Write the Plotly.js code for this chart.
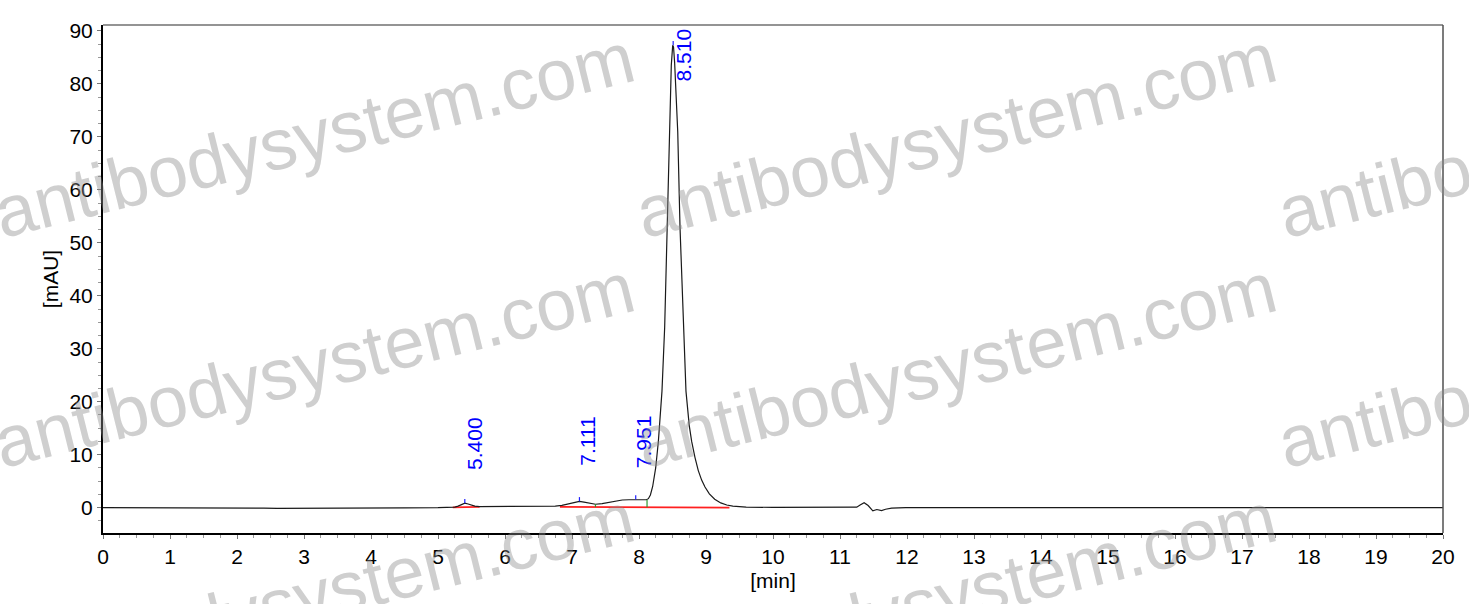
<!DOCTYPE html>
<html>
<head>
<meta charset="utf-8">
<script src="https://cdn.plot.ly/plotly-3.0.1.min.js"></script>
<style>
html,body{margin:0;padding:0;background:#fff;}
#chart{width:1469px;height:604px;}
</style>
</head>
<body>
<div id="chart"></div>
<script>
// ---- chromatogram data ----
var timeMin = [0.0,0.5,1.0,1.5,2.0,2.05,2.4,2.6,3.0,3.5,4.0,4.5,5.0,5.2,5.25,5.3,5.35,5.4,5.45,5.5,5.55,5.62,5.8,6.0,6.3,6.6,6.75,6.85,6.95,7.03,7.11,7.18,7.26,7.35,7.45,7.55,7.65,7.75,7.85,7.96,8.05,8.11,8.14,8.17,8.204,8.249,8.289,8.343,8.383,8.423,8.452,8.482,8.503,8.515,8.532,8.578,8.612,8.661,8.701,8.75,8.786,8.835,8.885,8.935,8.985,9.05,9.13,9.22,9.31,9.4,9.5,9.6,10.0,10.5,11.0,11.25,11.3,11.36,11.42,11.49,11.55,11.62,11.68,11.77,11.98,12.5,13.0,14.0,15.0,16.0,17.0,18.0,19.0,20.0];
var signalMAU = [0.0,0.0,0.0,0.0,0.0,-0.1,-0.1,-0.15,-0.15,-0.15,-0.1,-0.05,0.0,0.05,0.1,0.3,0.6,0.85,0.7,0.45,0.3,0.2,0.2,0.2,0.2,0.25,0.3,0.45,0.7,1.0,1.2,1.05,0.8,0.65,0.75,1.0,1.3,1.45,1.5,1.55,1.55,1.5,1.7,2.4,4.0,7.5,12.5,22,34,52,70,83.5,87.3,87.0,84,71,53,34,22,15.5,12.5,9.5,7,5.2,3.9,2.6,1.6,0.9,0.5,0.3,0.2,0.12,0.05,0.05,0.05,0.1,0.5,0.95,0.4,-0.6,-0.35,-0.55,-0.3,-0.1,0.0,0.0,0.0,0.0,0.0,0.0,0.0,0.0,0.0,0.0];

// integrated peaks
var peakTimes   = [5.400, 7.111, 7.951, 8.510];
var peakHeights = [0.85, 1.2, 1.55, 87.3];
var peakLabels  = ["5.400", "7.111", "7.951", "8.510"];

// integration baselines (red) : start/end time and level
var baseStartT = [5.22, 6.82];
var baseStartY = [0.05, 0.15];
var baseEndT   = [5.62, 9.35];
var baseEndY   = [0.15, 0.0];

// peak boundary marks (green)
var boundT = [7.35, 8.12];
var boundY = [0.65, 1.5];

// axis ticks
var xTicks = [0,1,2,3,4,5,6,7,8,9,10,11,12,13,14,15,16,17,18,19,20];
var yTicks = [0,10,20,30,40,50,60,70,80,90];

// ---- traces ----
var traces = [];
for (var i = 0; i < baseStartT.length; i++) {
  traces.push({x:[baseStartT[i], baseEndT[i]], y:[baseStartY[i], baseEndY[i]], mode:'lines',
    line:{color:'#ff2020', width:1.7}, hoverinfo:'skip', showlegend:false});
}
traces.push({x:timeMin, y:signalMAU, mode:'lines', line:{color:'#1a1a1a', width:1.2},
  hoverinfo:'skip', showlegend:false});
var gx = [], gy = [];
for (var j = 0; j < boundT.length; j++) { gx.push(boundT[j], boundT[j], null); gy.push(0.1, boundY[j], null); }
traces.push({x:gx, y:gy, mode:'lines', line:{color:'#2e9a2e', width:1.2}, hoverinfo:'skip', showlegend:false});
var bx = [], by = [];
for (var k = 0; k < peakTimes.length; k++) { bx.push(peakTimes[k], peakTimes[k], null); by.push(peakHeights[k], peakHeights[k] + 0.8, null); }
traces.push({x:bx, y:by, mode:'lines', line:{color:'#2020ff', width:1.2}, hoverinfo:'skip', showlegend:false});

// ---- annotations ----
var W = 1469, H = 604, L = 103, R = 26, T = 25, B = 71;
var pw = W - L - R, ph = H - T - B;
function px2paperX(p){ return (p - L) / pw; }
function px2paperY(p){ return (H - B - p) / ph; }

var annotations = [];
// peak labels: rotated, offset right/up from apex (pixel shifts)
var labelShiftX = [9, 8, 8, 10];
var labelShiftY = [60, 60, 58, -10];
for (var a = 0; a < peakTimes.length; a++) {
  annotations.push({x:peakTimes[a], y:peakHeights[a], xref:'x', yref:'y', text:peakLabels[a],
    showarrow:false, textangle:-90, xanchor:'center', yanchor:'middle',
    xshift:labelShiftX[a], yshift:labelShiftY[a],
    font:{family:'Arial, "Liberation Sans", sans-serif', size:21, color:'#0000ff'}});
}
// watermark grid
var wmCols = [314, 956, 1598];
var wmRows = [135, 365, 595];
for (var r = 0; r < wmRows.length; r++) {
  for (var c = 0; c < wmCols.length; c++) {
    annotations.push({x:px2paperX(wmCols[c]), y:px2paperY(wmRows[r]), xref:'paper', yref:'paper',
      text:'antibodysystem.com', showarrow:false, textangle:-14, xanchor:'center', yanchor:'middle',
      font:{family:'Arial, "Liberation Sans", sans-serif', size:72, color:'rgba(140,140,140,0.42)'}});
  }
}

var fontMain = {family:'Arial, "Liberation Sans", sans-serif', size:21, color:'#000'};

var layout = {
  width:W, height:H,
  margin:{l:L, r:R, t:T, b:B, pad:0},
  paper_bgcolor:'#ffffff', plot_bgcolor:'#ffffff',
  showlegend:false,
  font:fontMain,
  xaxis:{range:[0,20], tickvals:xTicks, ticktext:xTicks.map(String), ticks:'outside', ticklen:4,
    tickcolor:'#777', tickwidth:1, showline:true, linecolor:'#000', linewidth:2, showgrid:false,
    zeroline:false, tickfont:fontMain,
    minor:{dtick:0.25, ticks:'outside', ticklen:3, tickcolor:'#999', tickwidth:1, showgrid:false},
    title:{text:'[min]', font:fontMain, standoff:6}},
  yaxis:{range:[-4.78,91.12], tickvals:yTicks, ticktext:yTicks.map(String), ticks:'outside', ticklen:4,
    tickcolor:'#777', tickwidth:1, showline:true, linecolor:'#000', linewidth:2, showgrid:false,
    zeroline:false, tickfont:fontMain,
    minor:{dtick:2.5, ticks:'outside', ticklen:3, tickcolor:'#999', tickwidth:1, showgrid:false},
    title:{text:'[mAU]', font:fontMain, standoff:5}},
  shapes:[
    {type:'line', xref:'paper', yref:'paper', x0:0, x1:1, y0:1, y1:1, line:{color:'#707070', width:1.5}},
    {type:'line', xref:'paper', yref:'paper', x0:1, x1:1, y0:0, y1:1, line:{color:'#505050', width:1.5}}
  ],
  annotations:annotations
};

Plotly.newPlot('chart', traces, layout, {staticPlot:true, displayModeBar:false});
</script>
</body>
</html>
